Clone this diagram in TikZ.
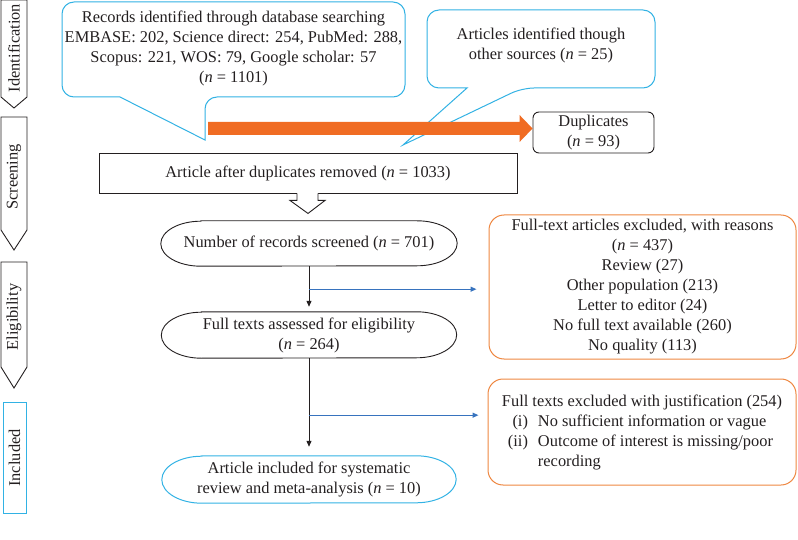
\documentclass[tikz,border=0pt]{standalone}
\usepackage{fontspec}
\setmainfont{Liberation Serif}
\usetikzlibrary{calc,arrows.meta}
\definecolor{cyanl}{RGB}{50,178,228}
\definecolor{orl}{RGB}{238,135,65}
\definecolor{ora}{RGB}{240,108,35}
\definecolor{bluel}{RGB}{55,115,190}
\definecolor{txt}{RGB}{35,31,32}
\newcommand\mycapsule[3]{%
  \draw[#2] ($(#1.north west)+(40,0)$) -- ($(#1.north east)+(-40,0)$)
    arc[start angle=-90,end angle=90,x radius=40,y radius=#3]
    -- ($(#1.south west)+(40,0)$)
    arc[start angle=90,end angle=270,x radius=40,y radius=#3] -- cycle;}
\begin{document}
\begin{tikzpicture}[x=1pt,y=-1pt,font=\fontsize{16.4}{20}\selectfont,text=txt,
  lbl/.style={inner sep=0pt,align=center},
  side/.style={draw=txt,line width=0.9pt,line join=miter},
  callout/.style={draw=cyanl,line width=1pt,fill=white},
  capnode/.style={inner sep=0pt,align=center,minimum width=#1},
  exbox/.style={draw=orl,line width=1pt,rounded corners=15pt,inner sep=0pt,align=center},
  blk/.style={draw=txt,line width=0.9pt},
  darr/.style={txt,line width=1pt,-{Triangle[length=6pt,width=5pt]}},
  barr/.style={bluel,line width=1.2pt,-{Triangle[length=6pt,width=5pt]}}]
\useasboundingbox (0,0) rectangle (798,540);

% side labels
\draw[side] (1,0) -- (27,0) -- (27,97) -- (14,108) -- (1,97) -- cycle;
\node[lbl,rotate=90] (sid) at (14,48) {Identification};
\draw[side] (1,117) -- (27,117) -- (27,230) -- (14,250) -- (1,230) -- cycle;
\node[lbl,rotate=90] (ssc) at (14,177) {Screening};
\draw[side] (1,262) -- (27,262) -- (27,367) -- (14,388) -- (1,367) -- cycle;
\node[lbl,rotate=90] (sel) at (14,317) {Eligibility};
\draw[draw=cyanl,line width=1pt] (3,402) rectangle (26,513);
\node[lbl,rotate=90] (sin) at (14.5,458) {Included};

% callouts
\draw[callout] (120,97) [rounded corners=12pt] -- (62,97) -- (62,2) -- (405,2) -- (405,97) -- (205,97) [sharp corners] -- (205,140) -- cycle;
\node[lbl] (c1) at (233.5,48.5) {Records identified through database searching\\EMBASE: 202, Science direct: 254, PubMed: 288,\\Scopus: 221, WOS: 79, Google scholar: 57\\(\textit{n} = 1101)};
\draw[callout] (467,88) [rounded corners=12pt] -- (427,88) -- (427,10) -- (655,10) -- (655,88) -- (522,88) [sharp corners] -- (403,145) -- cycle;
\node[lbl] (c2) at (541,45) {Articles identified though\\other sources (\textit{n} = 25)};

% duplicates + orange arrow
\node[blk,rounded corners=6pt,minimum width=121pt,minimum height=41pt,inner sep=0pt,align=center] (dup) at (593.5,132.5) {Duplicates\\(\textit{n} = 93)};
\coordinate (oa) at (208,128.5);
\fill[ora] ($(oa)+(0,-6.5)$) -- ($(dup.west|-oa)+(-13,-6.5)$) -- ($(dup.west|-oa)+(-13,-13.5)$) -- (dup.west|-oa) -- ($(dup.west|-oa)+(-13,13.5)$) -- ($(dup.west|-oa)+(-13,6.5)$) -- ($(oa)+(0,6.5)$) -- cycle;

% article box
\node[blk,minimum width=418pt,minimum height=40pt,inner sep=0pt] (art) at (308,173) {Article after duplicates removed (\textit{n} = 1033)};
\fill[white] ($(art.south)+(-10.6,-1)$) rectangle ($(art.south)+(9.6,1)$);
\draw[blk,fill=white] ($(art.south)+(-11,0)$) -- ++(0,7) -- ++(-7,0) -- ($(art.south)+(0,20)$) -- ($(art.south)+(17,7)$) -- ++(-7,0) -- ($(art.south)+(10,0)$);

% capsules
\node[capnode=296pt,minimum height=45pt] (e1) at (309,243.5) {Number of records screened (\textit{n} = 701)};
\mycapsule{e1}{blk}{22.5}
\node[capnode=295pt,minimum height=46pt] (e2) at (309,335) {Full texts assessed for eligibility\\(\textit{n} = 264)};
\mycapsule{e2}{blk}{23}
\node[capnode=294pt,minimum height=47pt] (e3) at (309,479.5) {Article included for systematic\\review and meta-analysis (\textit{n} = 10)};
\mycapsule{e3}{draw=cyanl,line width=1pt}{23.5}

% exclusion boxes
\node[exbox,minimum width=307pt,minimum height=144pt] (ex1) at (642.5,287) {Full-text articles excluded, with reasons\\(\textit{n} = 437)\\Review (27)\\Other population (213)\\Letter to editor (24)\\No full text available (260)\\No quality (113)};
\node[exbox,minimum width=308pt,minimum height=106pt] (ex2) at (642,432) {\begin{tabular}{@{\hspace{6pt}}r@{\hspace{10pt}}l@{}}\multicolumn{2}{@{}c@{}}{Full texts excluded with justification (254)}\\(i) & No sufficient information or vague\\(ii) & Outcome of interest is missing/poor\\ & recording\end{tabular}};

% connectors
\draw[darr,shorten >=5pt] (e1.south) -- (e2.north);
\draw[darr,shorten >=9pt] (e2.south) -- (e3.north);
\path (e1.south) ++(0,23) coordinate (b1);
\path (e2.south) ++(0,57) coordinate (b2);
\draw[barr,shorten >=12pt] (b1) -- (b1 -| ex1.west);
\draw[barr,shorten >=9pt] (b2) -- (b2 -| ex2.west);
\end{tikzpicture}
\end{document}
